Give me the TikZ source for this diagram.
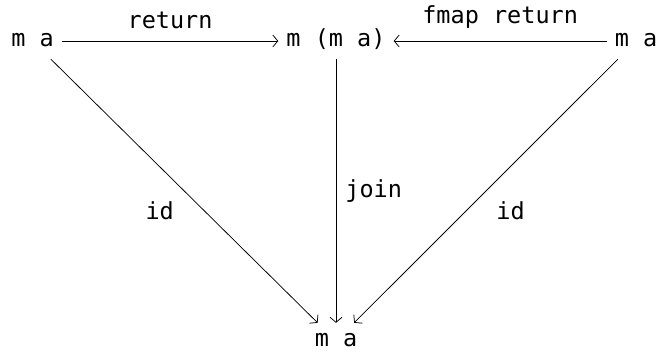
\documentclass[tikz,border=0pt]{standalone}
\usepackage{fontspec}
\setmonofont{DejaVu Sans Mono}
\usetikzlibrary{arrows.meta}
\begin{document}
\begin{tikzpicture}[x=1pt,y=1pt,
  obj/.style={font=\ttfamily\fontsize{23.5pt}{27pt}\selectfont, text height=16pt, text depth=4pt, inner sep=8pt, anchor=base},
  lbl/.style={font=\ttfamily\fontsize{23.5pt}{27pt}\selectfont, inner sep=10pt},
  arr/.style={line width=0.75pt, -{Straight Barb[length=5pt,width=12pt]}}]
\useasboundingbox (0,0) rectangle (659,352);
\node[obj] (A) at (32.5,305) {m a};
\node[obj] (B) at (336,305) {m (m a)};
\node[obj] (C) at (636,305) {m a};
\node[obj] (D) at (336,5) {m a};
\draw[arr] (A) -- node[lbl, above=2pt] {return} (B);
\draw[arr] (C) -- node[lbl, above=2pt] {fmap return} (B);
\draw[arr] (B) -- node[lbl, right, inner sep=9pt] {join} (D);
\draw[arr] (A) -- node[lbl, below left] {id} (D);
\draw[arr] (C) -- node[lbl, below right] {id} (D);
\end{tikzpicture}
\end{document}
